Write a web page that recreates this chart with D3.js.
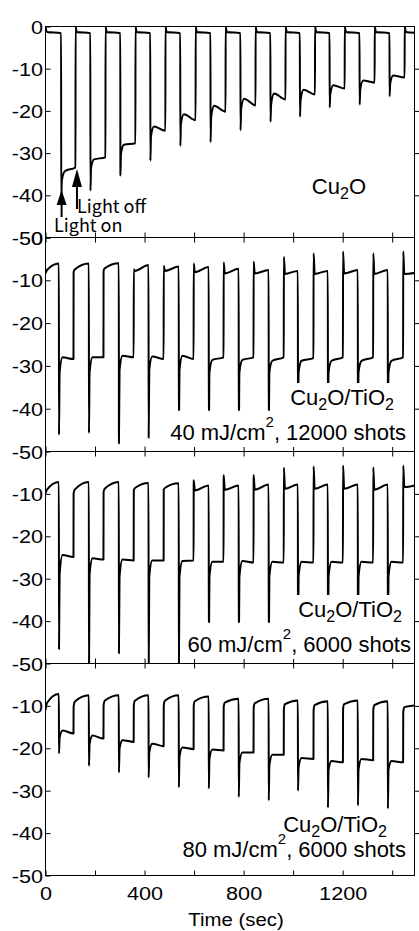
<!DOCTYPE html>
<html><head><meta charset="utf-8">
<script src="https://cdn.jsdelivr.net/npm/d3@7"></script>
<style>
html,body{margin:0;padding:0;background:#fff;}
svg{display:block;}
</style></head><body>
<svg id="chart" width="419" height="931"></svg>
<script>
// ---------------- DATA ----------------
const timeLabelTicks = [0, 400, 800, 1200];
const timeMinorTicks = [0, 200, 400, 600, 800, 1000, 1200, 1400];
const yTickValues = [0, -10, -20, -30, -40, -50];
const xMax = 1490;

// Panel 1: Cu2O
const p1On    = [63, 181, 302, 423, 544, 666, 787, 908, 1027, 1147, 1268, 1389];
const p1Off   = [121, 242, 363, 484, 606, 727, 848, 969, 1088, 1208, 1329, 1450];
const p1Start = [0, -1.3];
const p1PreOn = [-1.6, -1.6, -1.6, -1.6, -1.6, -1.6, -1.6, -1.6, -1.6, -1.6, -1.6, -1.6];
const p1Spike = [-41, -38.9, -35.3, -31.8, -28.3, -27.4, -24.6, -22.6, -21.4, -19.2, -18.5, -16.5];
const p1Recov = [-36.5, -33.5, -30, -26, -23, -21.5, -19.5, -18.5, -17.5, -16, -15, -13.5];
const p1Plat0 = [-34.3, -31.5, -28, -23.7, -20.8, -18.8, -17.1, -15.9, -15.0, -13.9, -12.8, -11.6];
const p1Plat1 = [-33.4, -31.0, -27.7, -24.7, -22.2, -20.2, -18.7, -17.3, -16.1, -14.7, -13.3, -12.1];
const p1OffPk = [0, 0, 0, 0, 0, 0, 0, 0, 0, 0, 0, 0];
const p1OffSet = [-1.3, -1.3, -1.3, -1.3, -1.3, -1.3, -1.3, -1.3, -1.3, -1.3, -1.3, -1.3];
const p1End = -1.5;

// Panels 2-4 share the same light on/off times
const pOn  = [54, 175, 296, 416, 538, 659, 780, 901, 1019, 1140, 1261, 1382];
const pOff = [113, 234, 356, 477, 598, 719, 840, 962, 1082, 1201, 1323, 1444];

// Panel 2: Cu2O/TiO2, 40 mJ/cm2, 12000 shots
const p2Start = [-8.4, -7.6];
const p2PreOn = [-6.1, -6.1, -6.0, -6.4, -6.8, -6.9, -7.3, -7.6, -7.8, -7.8, -7.6, -7.6];
const p2Spike = [-46.1, -45.7, -48.1, -46.8, -46.5, -46.5, -46.5, -46.5, -46.5, -46.5, -46.5, -46.5];
const p2Recov = [-31.5, -31.5, -31, -31, -31, -31.5, -31.5, -31.5, -31.5, -31.5, -31.5, -31.5];
const p2Plat0 = [-28.0, -28.0, -27.6, -27.8, -27.6, -28.6, -28.6, -28.8, -28.8, -28.8, -28.8, -28.8];
const p2Plat1 = [-28.4, -28.0, -28.0, -28.4, -28.4, -28.0, -28.0, -28.0, -28.2, -28.0, -28.0, -28.0];
const p2OffPk = [-8.1, -7.8, -7.4, -6.6, -6.1, -5.8, -5.6, -4.5, -3.7, -3.3, -3.7, -3.3];
const p2OffSet = [-7.5, -7.2, -7.8, -7.8, -8.1, -8.4, -8.4, -8.5, -8.5, -8.4, -8.5, -8.5];
const p2End = -8.3;

// Panel 3: Cu2O/TiO2, 60 mJ/cm2, 6000 shots
const p3Start = [-9.9, -9.0];
const p3PreOn = [-7.2, -7.2, -7.2, -7.4, -7.5, -8.0, -8.0, -7.8, -7.8, -7.8, -7.8, -7.8];
const p3Spike = [-46.6, -53, -47.6, -53, -53, -47, -47, -47, -47, -47, -47, -47];
const p3Recov = [-29, -29, -29.5, -29.5, -29.5, -29.5, -29.5, -29.5, -29.5, -29.5, -29.5, -29.5];
const p3Plat0 = [-24.4, -25.2, -25.5, -25.7, -25.8, -26.0, -25.8, -26.0, -26.0, -26.0, -26.0, -26.0];
const p3Plat1 = [-24.9, -25.5, -25.7, -25.7, -25.7, -26.0, -26.2, -26.2, -26.2, -26.2, -26.2, -26.2];
const p3OffPk = [-9.9, -9.6, -9.2, -9.0, -6.8, -5.6, -5.6, -3.8, -3.5, -3.3, -3.7, -3.3];
const p3OffSet = [-9.0, -8.8, -8.6, -8.6, -9.2, -9.0, -9.0, -8.8, -8.8, -8.8, -9.0, -8.4];
const p3End = -8.0;

// Panel 4: Cu2O/TiO2, 80 mJ/cm2, 6000 shots
const p4Start = [-11.0, -9.3];
const p4PreOn = [-7.2, -7.5, -7.5, -7.5, -7.5, -7.8, -8.3, -8.3, -8.7, -8.9, -8.7, -8.9];
const p4Spike = [-21.2, -24.1, -25.7, -26.9, -29.2, -29.5, -31.5, -32.3, -30.0, -34.0, -33.5, -34.2];
const p4Recov = [-17.5, -19, -20, -21, -22, -22.5, -23.5, -24, -24.5, -25, -25, -25];
const p4Plat0 = [-15.8, -17.0, -18.1, -18.9, -19.8, -20.3, -21.0, -21.5, -22.3, -23.0, -22.5, -23.0];
const p4Plat1 = [-16.5, -17.7, -18.5, -19.5, -20.2, -20.5, -21.0, -21.5, -22.5, -23.3, -22.8, -23.3];
const p4OffPk = [-10.3, -10.0, -10.0, -10.0, -10.0, -10.3, -10.5, -10.8, -11, -10.8, -11, -11.5];
const p4OffSet = [-9.0, -8.8, -8.8, -8.8, -8.9, -9.2, -9.4, -9.6, -9.8, -9.6, -9.8, -10.3];
const p4End = -9.9;

const labelLine1 = ["Cu2O", "Cu2O/TiO2", "Cu2O/TiO2", "Cu2O/TiO2"];
const labelFluence = [null, "40", "60", "80"];
const labelShots = [null, "12000", "6000", "6000"];

// ---------------- LAYOUT ----------------
const svg = d3.select("#chart");
const left = 45.5, right = 414.5;
const edges = [26.5, 237.5, 451.5, 663.5, 875.5];
const x = d3.scaleLinear().domain([0, xMax]).range([left, right]);
const fontTick = "'Liberation Sans', Arial, Helvetica, sans-serif";

const panels = [
  {on: p1On, off: p1Off, start: p1Start, preOn: p1PreOn, spike: p1Spike, recov: p1Recov, plat0: p1Plat0, plat1: p1Plat1, offPk: p1OffPk, offSet: p1OffSet, end: p1End, yt: yTickValues},
  {on: pOn, off: pOff, start: p2Start, preOn: p2PreOn, spike: p2Spike, recov: p2Recov, plat0: p2Plat0, plat1: p2Plat1, offPk: p2OffPk, offSet: p2OffSet, end: p2End, yt: yTickValues},
  {on: pOn, off: pOff, start: p3Start, preOn: p3PreOn, spike: p3Spike, recov: p3Recov, plat0: p3Plat0, plat1: p3Plat1, offPk: p3OffPk, offSet: p3OffSet, end: p3End, yt: yTickValues.slice(1)},
  {on: pOn, off: pOff, start: p4Start, preOn: p4PreOn, spike: p4Spike, recov: p4Recov, plat0: p4Plat0, plat1: p4Plat1, offPk: p4OffPk, offSet: p4OffSet, end: p4End, yt: yTickValues.slice(1)}
];

function buildPoints(p) {
  const pts = [[0, p.start[0]], [6, p.start[1]]];
  for (let k = 0; k < p.on.length; k++) {
    pts.push([p.on[k], p.preOn[k]]);
    pts.push([p.on[k] + 0.5, p.spike[k]]);
    pts.push([p.on[k] + 3, p.recov[k]]);
    pts.push([p.on[k] + 15, p.plat0[k]]);
    pts.push([p.off[k], p.plat1[k]]);
    pts.push([p.off[k] + 0.5, p.offPk[k]]);
    pts.push([p.off[k] + 5, p.offSet[k]]);
  }
  pts.push([xMax, p.end]);
  return pts;
}

const defs = svg.append("defs");

panels.forEach((p, i) => {
  const top = edges[i], bottom = edges[i + 1];
  const y = d3.scaleLinear().domain([-50, 0]).range([bottom, top]);
  const g = svg.append("g");

  defs.append("clipPath").attr("id", "clip" + i)
    .append("rect").attr("x", left).attr("y", top).attr("width", right - left).attr("height", bottom - top);

  const line = d3.line().x(d => x(d[0])).y(d => y(d[1])).curve(d3.curveMonotoneX);
  g.append("path").datum(buildPoints(p))
    .attr("clip-path", "url(#clip" + i + ")")
    .attr("fill", "none").attr("stroke", "#000").attr("stroke-width", 2)
    .attr("stroke-linejoin", "round")
    .attr("d", line);

  // left axis
  const ax = g.append("g").attr("transform", `translate(${left},0)`)
    .call(d3.axisLeft(y).tickValues(p.yt).tickSizeInner(-5).tickSizeOuter(0).tickFormat(d => String(d)));
  ax.select(".domain").remove();
  ax.selectAll("text").attr("x", null).attr("dy", "0.36em")
    .attr("transform", "translate(-2.5,0) scale(1.17,1)")
    .style("font-family", fontTick).style("font-size", "18.5px").attr("fill", "#000");

  // right axis ticks
  const ar = g.append("g").attr("transform", `translate(${right},0)`)
    .call(d3.axisRight(y).tickValues([-10, -20, -30, -40]).tickSizeInner(5).tickSizeOuter(0).tickFormat(""));
  ar.select(".domain").remove();

  // bottom ticks (inward)
  const ab = g.append("g").attr("transform", `translate(0,${bottom})`)
    .call(d3.axisBottom(x).tickValues(timeMinorTicks).tickSizeInner(-5).tickSizeOuter(0)
      .tickFormat(d => (i === 3 && timeLabelTicks.includes(d)) ? String(d) : ""));
  ab.select(".domain").remove();
  ab.selectAll("text").attr("y", null).attr("dy", null)
    .attr("transform", "translate(0,24.5) scale(1.17,1)")
    .style("font-family", fontTick).style("font-size", "18.5px").attr("fill", "#000");

  // top ticks (inward) for lower panels
  if (i > 0) {
    const at = g.append("g").attr("transform", `translate(0,${top})`)
      .call(d3.axisTop(x).tickValues(timeMinorTicks).tickSizeInner(-5).tickSizeOuter(0).tickFormat(""));
    at.select(".domain").remove();
  }

  // frame
  g.append("rect").attr("x", left).attr("y", top).attr("width", right - left).attr("height", bottom - top)
    .attr("fill", "none").attr("stroke", "#000").attr("stroke-width", 1);
});

// ---------------- LABELS ----------------
const fontLab = "'Liberation Sans', Arial, Helvetica, sans-serif";
function chemLabel(g, text, xEnd, yBase) {
  const t = g.append("text").attr("x", xEnd).attr("y", yBase).attr("text-anchor", "end")
    .style("font-family", fontLab).style("font-size", "22px").attr("fill", "#000");
  // split on digit '2' as subscript
  const parts = text.split("2");
  parts.forEach((s, j) => {
    if (s) t.append("tspan").text(s).attr("dy", j > 0 ? -5 : null);
    if (j < parts.length - 1) {
      t.append("tspan").text("2").style("font-size", "16px").attr("dy", s || j === 0 ? 5 : 5);
    }
  });
  return t;
}
function condLabel(g, fl, shots, xEnd, yBase) {
  const t = g.append("text").attr("x", xEnd).attr("y", yBase).attr("text-anchor", "end")
    .style("font-family", fontLab).style("font-size", "22px").attr("fill", "#000");
  t.append("tspan").text(fl + " mJ/cm");
  t.append("tspan").text("2").style("font-size", "15px").attr("dy", -13.3);
  t.append("tspan").text(", " + shots + " shots").attr("dy", 13.3);
  return t;
}
function boxBehind(g, t, pad) {
  const b = t.node().getBBox();
  g.insert("rect", "text").attr("x", b.x - pad).attr("y", b.y - pad)
    .attr("width", b.width + 2 * pad).attr("height", b.height + 2 * pad).attr("fill", "#fff");
}

const line1Pos = [[366, 194], [394, 405], [402, 617], [387, 832]];
const line2Pos = [null, [406, 440], [411, 652], [406, 857]];
panels.forEach((p, i) => {
  const g = svg.append("g");
  const t1 = chemLabel(g, labelLine1[i], line1Pos[i][0], line1Pos[i][1]);
  boxBehind(g, t1, 2);
  if (labelFluence[i]) {
    const t2 = condLabel(g, labelFluence[i], labelShots[i], line2Pos[i][0], line2Pos[i][1]);
    boxBehind(g, t2, 2);
  }
});
// order: make sure all texts are above boxes
svg.selectAll("text").raise();

// Light on / Light off arrows
const fontJP = "'Noto Sans CJK JP', 'DejaVu Sans', sans-serif";
const arrows = svg.append("g");
function arrow(cx, tip, base, tail) {
  arrows.append("path").attr("d", `M${cx - 5},${base} L${cx},${tip} L${cx + 5},${base} Z`).attr("fill", "#000");
  arrows.append("line").attr("x1", cx).attr("x2", cx).attr("y1", base - 1).attr("y2", tail)
    .attr("stroke", "#000").attr("stroke-width", 2);
}
arrow(x(p1On[0]) + 0.5, 190, 205, 217);
arrow(x(p1Off[0]) + 1.5, 169, 187, 209);
arrows.append("text").attr("x", 54).attr("y", 231.5).text("Light on")
  .style("font-family", fontJP).style("font-size", "18px").attr("fill", "#000");
arrows.append("text").attr("x", 77).attr("y", 212.5).text("Light off")
  .style("font-family", fontJP).style("font-size", "18px").attr("fill", "#000");

// x axis title
svg.append("text").attr("transform", "translate(236,926) scale(1.1,1)").attr("text-anchor", "middle")
  .style("font-family", fontTick).style("font-size", "18.5px").attr("fill", "#000").text("Time (sec)");
</script>
</body></html>
